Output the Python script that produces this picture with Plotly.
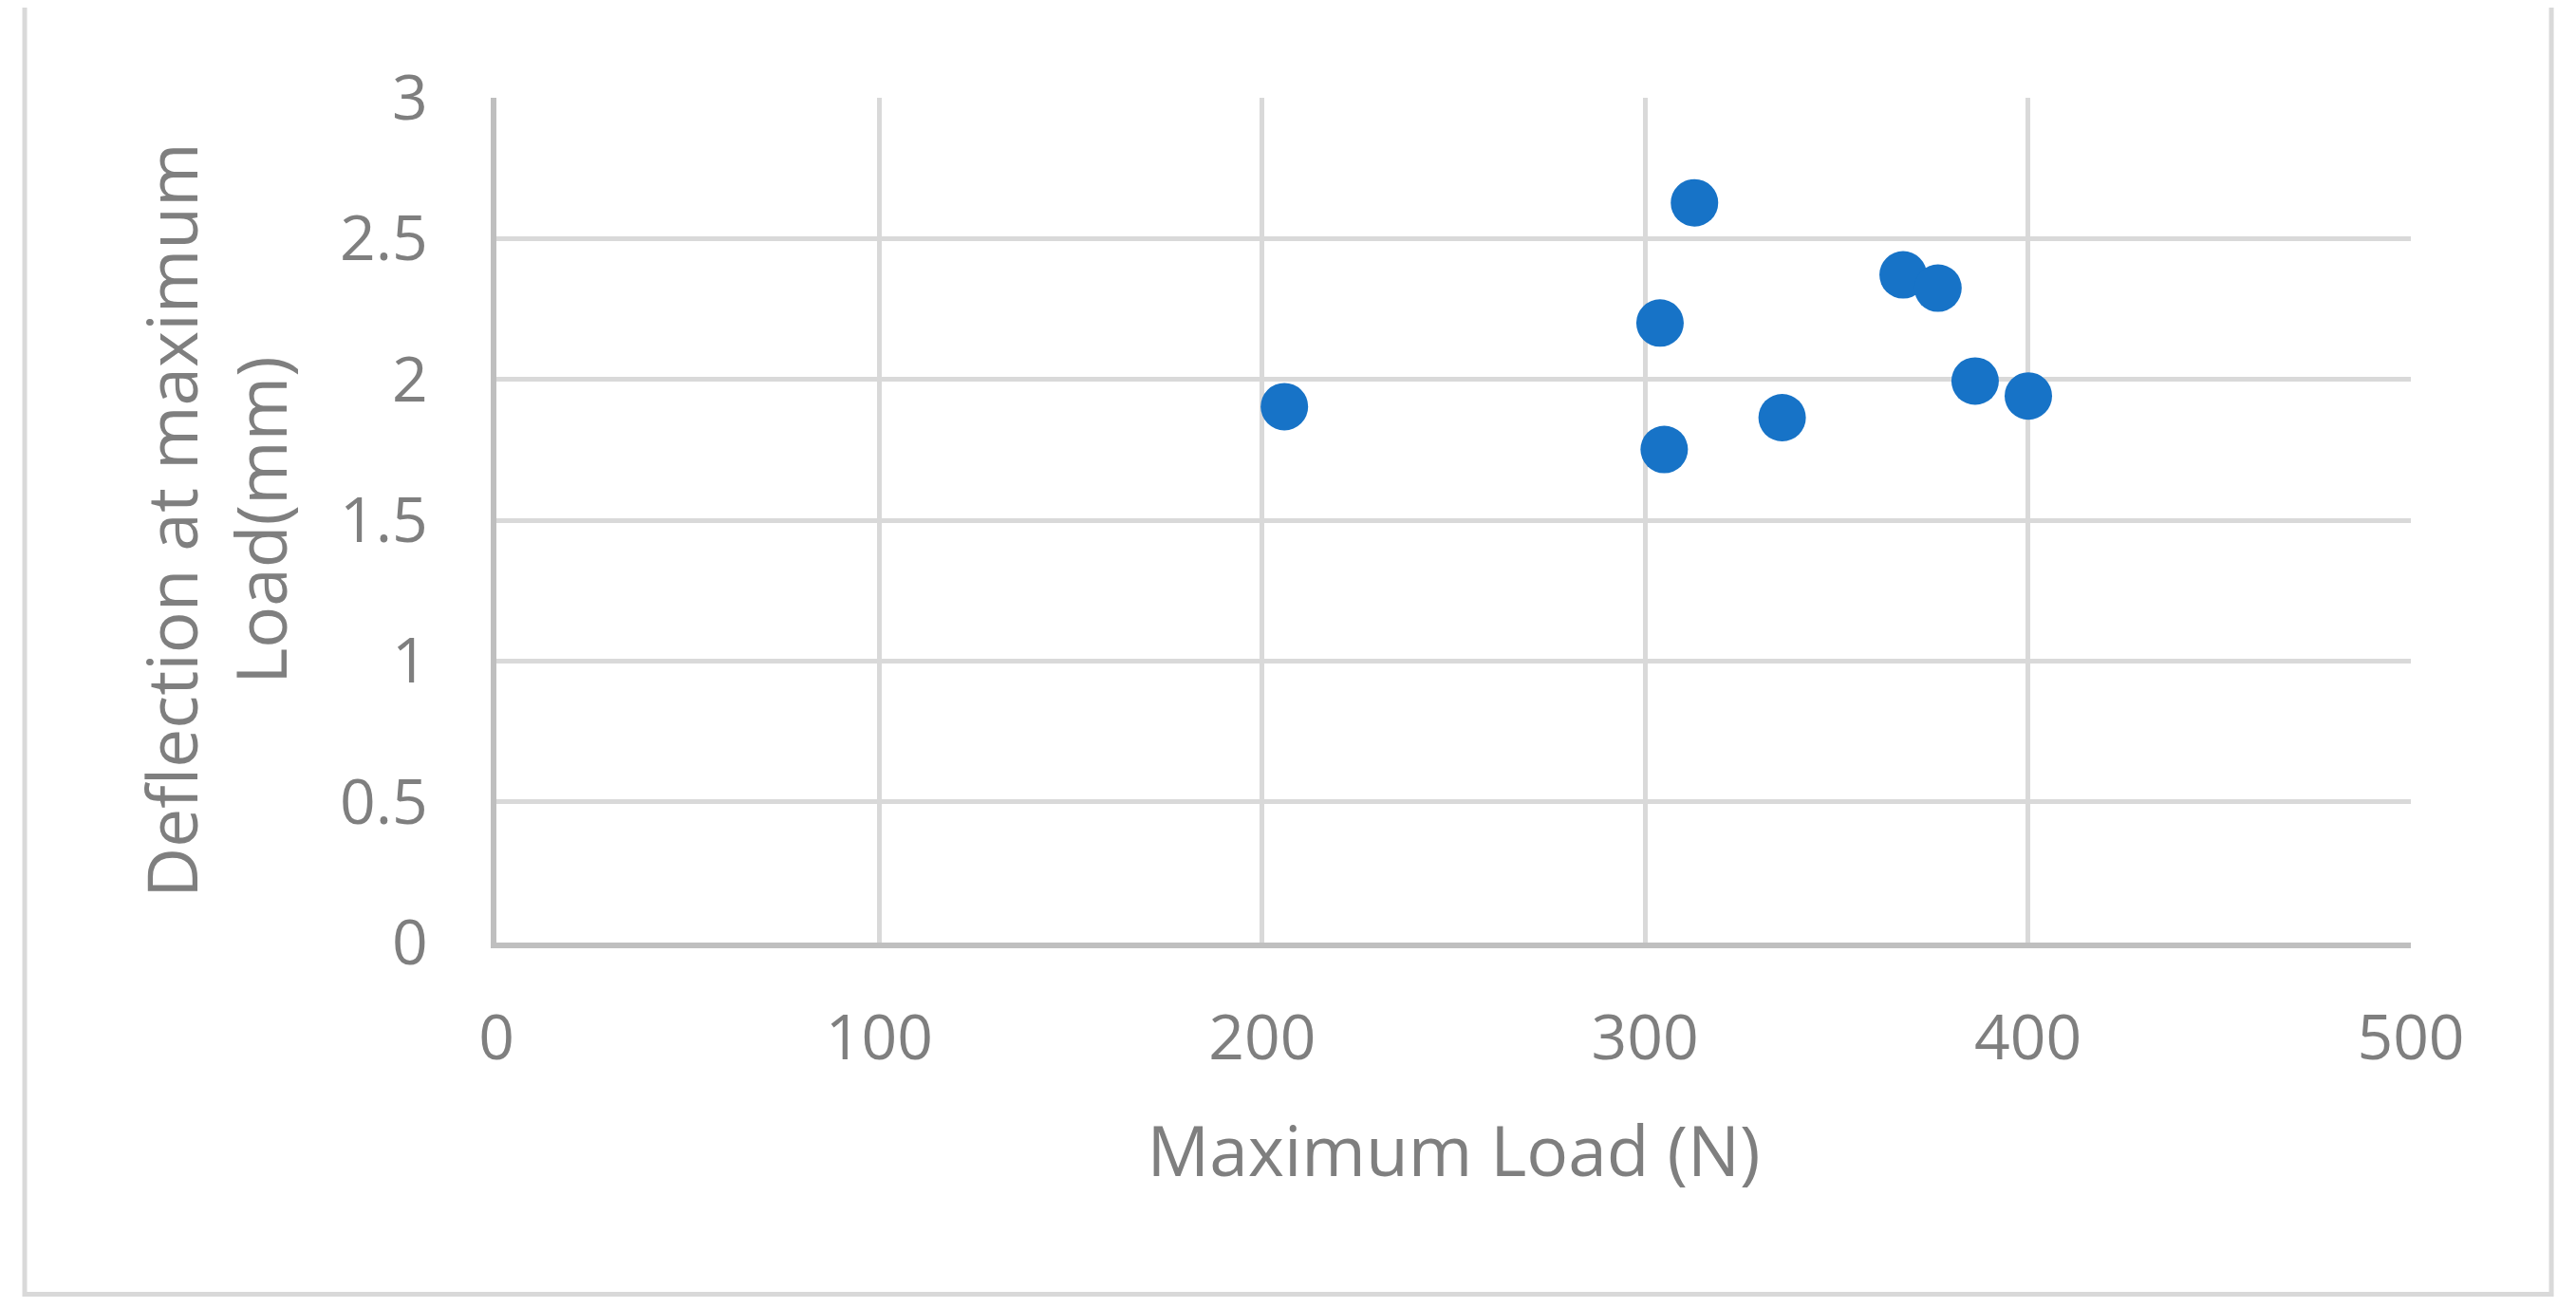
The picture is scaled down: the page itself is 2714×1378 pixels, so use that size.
"""Scatter of deflection at maximum load against maximum load."""

import plotly.graph_objects as go

# Data
max_load = [205.8, 312.9, 303.9, 305.0, 335.8, 367.4, 376.5, 386.2, 400.1]
deflection = [1.903, 2.627, 2.200, 1.751, 1.864, 2.371, 2.324, 1.994, 1.941]

x_ticks = [0, 100, 200, 300, 400, 500]
y_ticks = [0, 0.5, 1, 1.5, 2, 2.5, 3]
y_tick_text = ["0", "0.5", "1", "1.5", "2", "2.5", "3"]

GRID = "#D9D9D9"
AXIS = "#BFBFBF"
TEXT = "#7F7F7F"
FONT = "Open Sans"

fig = go.Figure()

fig.add_trace(
    go.Scatter(
        x=max_load,
        y=deflection,
        mode="markers",
        marker=dict(size=50, color="#1773C7"),
        showlegend=False,
    )
)

# Outer chart border
fig.add_shape(
    type="rect",
    xref="paper",
    yref="paper",
    x0=-0.2464,
    x1=1.0734,
    y0=-0.4162,
    y1=1.14,
    line=dict(color=GRID, width=5),
    layer="below",
)

# the page body adds an 8px offset, so margins are shifted to compensate
fig.update_layout(
    width=2714,
    height=1378,
    margin=dict(l=515, r=182, t=95, b=393, autoexpand=False),
    paper_bgcolor="white",
    plot_bgcolor="white",
    font=dict(family=FONT, color=TEXT),
    xaxis=dict(
        range=[0, 500],
        tickvals=x_ticks,
        showgrid=True,
        gridcolor=GRID,
        gridwidth=5,
        zeroline=False,
        showline=True,
        linecolor=AXIS,
        linewidth=6,
        ticks="",
        ticklabelstandoff=38,
        tickfont=dict(size=66, color=TEXT, family=FONT),
        title=dict(
            text="Maximum Load (N)",
            font=dict(size=73, color=TEXT, family=FONT),
            standoff=56,
        ),
        automargin=False,
    ),
    yaxis=dict(
        range=[0, 3],
        tickvals=y_ticks,
        ticktext=y_tick_text,
        showgrid=True,
        gridcolor=GRID,
        gridwidth=5,
        zeroline=False,
        showline=True,
        linecolor=AXIS,
        linewidth=6,
        ticks="",
        ticklabelstandoff=53,
        tickfont=dict(size=66, color=TEXT, family=FONT),
        title=dict(
            text="Deflection at maximum<br>Load(mm)",
            font=dict(size=73, color=TEXT, family=FONT),
            standoff=33,
        ),
        automargin=False,
    ),
)

fig.write_html("out.html")
